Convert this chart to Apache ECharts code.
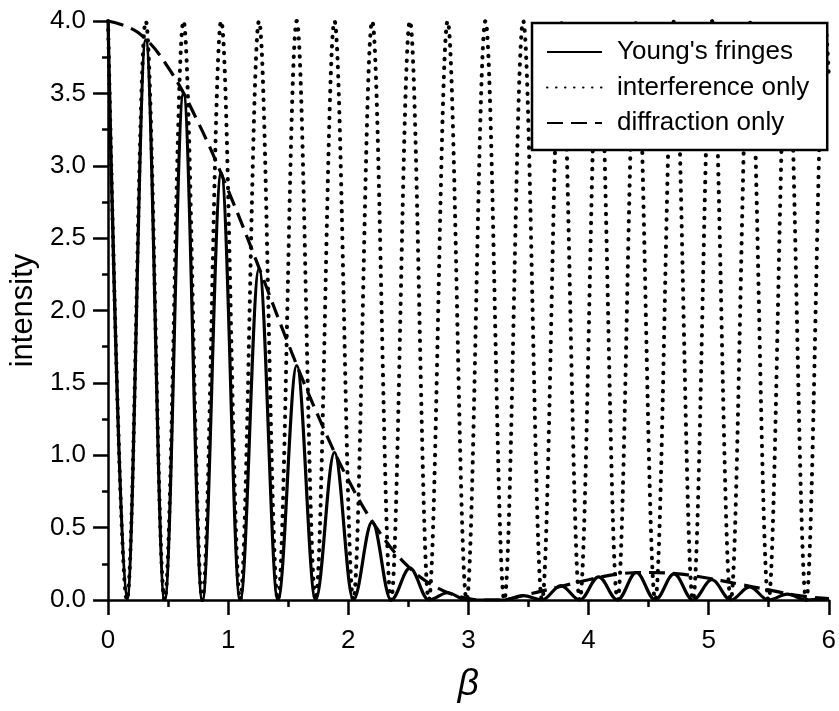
<!DOCTYPE html>
<html>
<head>
<meta charset="utf-8">
<script src="https://cdn.jsdelivr.net/npm/echarts@6/dist/echarts.min.js"></script>
<style>
html,body{margin:0;padding:0;background:#fff;}
#chart{width:839px;height:711px;}
</style>
</head>
<body>
<div id="chart"></div>
<script>
// beta positions of the fringe maxima / minima
const betaGrid = [0.000,0.157,0.314,0.471,0.628,0.785,0.942,1.100,1.257,1.414,
  1.571,1.728,1.885,2.042,2.199,2.356,2.513,2.670,2.827,2.985,
  3.142,3.299,3.456,3.613,3.770,3.927,4.084,4.241,4.398,4.555,
  4.712,4.869,5.027,5.184,5.341,5.498,5.655,5.812,5.969,6.000];
// interference only (maxima / minima)
const interference = [4,0,4,0,4,0,4,0,4,0,
  4,0,4,0,4,0,4,0,4,0,
  4,0,4,0,4,0,4,0,4,0,
  4,0,4,0,4,0,4,0,4,3.62];
// Young's fringes (maxima / minima)
const youngs = [4.00,0,3.87,0,3.50,0,2.95,0,2.29,0,
  1.62,0,1.02,0,0.54,0,0.22,0,0.05,0,
  0.00,0,0.03,0,0.10,0,0.16,0,0.19,0,
  0.18,0,0.14,0,0.09,0,0.04,0,0.01,0.01];
// diffraction only envelope
const diffBeta = [0,0.25,0.5,0.75,1.0,1.25,1.5,1.75,2.0,2.25,2.5,2.75,3.0,3.142,3.25,
  3.5,3.75,4.0,4.25,4.5,4.75,5.0,5.25,5.5,5.75,6.0];
const diffraction = [4.00,3.92,3.68,3.30,2.83,2.31,1.77,1.27,0.83,0.48,0.23,0.08,0.01,0.00,0.00,
  0.04,0.09,0.14,0.18,0.19,0.18,0.15,0.11,0.07,0.03,0.01];
const seriesNames = ["Young's fringes", "interference only", "diffraction only"];
const xTicks = [0,1,2,3,4,5,6];
const yTicks = [0,0.5,1,1.5,2,2.5,3,3.5,4];

const FONT = "'Liberation Sans', Arial, sans-serif";
const chart = echarts.init(document.getElementById('chart'), null, {renderer:'canvas'});
const pair = (xs, ys) => xs.map((x, i) => [x, ys[i]]);

chart.setOption({
  backgroundColor: '#fff',
  animation: false,
  grid: {left: 105, right: 8, top: 21, bottom: 111, containLabel: false},
  legend: {
    orient: 'vertical', left: 532, top: 23,
    padding: [16, 18, 14, 14],
    borderColor: '#000', borderWidth: 2.5, backgroundColor: '#fff',
    itemWidth: 55, itemHeight: 14, itemGap: 9.5,
    textStyle: {fontSize: 26, fontFamily: FONT, color: '#000', lineHeight: 26, padding: [0,0,0,10]},
    itemStyle: {opacity: 0},
    data: seriesNames
  },
  xAxis: {
    type: 'value', min: xTicks[0], max: xTicks[xTicks.length-1], interval: 1,
    name: 'β', nameLocation: 'middle', nameGap: 66,
    nameTextStyle: {fontSize: 37, fontStyle: 'italic', fontFamily: FONT, color: '#000'},
    axisLine: {lineStyle: {color: '#000', width: 2.5}},
    axisTick: {show: true, inside: false, length: 15, lineStyle: {color: '#000', width: 2.5}},
    minorTick: {show: true, splitNumber: 2, length: 7, lineStyle: {color: '#000', width: 2.5}},
    axisLabel: {fontSize: 26, fontFamily: FONT, color: '#000', margin: 28, showMinLabel: true, showMaxLabel: true},
    splitLine: {show: false}
  },
  yAxis: {
    type: 'value', min: yTicks[0], max: yTicks[yTicks.length-1], interval: 0.5,
    name: 'intensity', nameLocation: 'middle', nameGap: 66,
    nameTextStyle: {fontSize: 31, fontFamily: FONT, color: '#000'},
    axisLine: {show: true, lineStyle: {color: '#000', width: 2.5}},
    axisTick: {show: true, inside: false, length: 15, lineStyle: {color: '#000', width: 2.5}},
    minorTick: {show: true, splitNumber: 2, length: 6, lineStyle: {color: '#000', width: 2.5}},
    axisLabel: {fontSize: 26, fontFamily: FONT, color: '#000', margin: 22, formatter: v => v.toFixed(1)},
    splitLine: {show: false}
  },
  series: [
    {
      name: seriesNames[1], type: 'line', data: pair(betaGrid, interference),
      symbol: 'none', smooth: 0.36, smoothMonotone: 'x',
      lineStyle: {color: '#000', width: 4, type: [0.5, 8.5], cap: 'round'}, z: 2
    },
    {
      name: seriesNames[2], type: 'line', data: pair(diffBeta, diffraction),
      symbol: 'none', smooth: 0.4,
      lineStyle: {color: '#000', width: 3.2, type: [16, 8]}, z: 3
    },
    {
      name: seriesNames[0], type: 'line', data: pair(betaGrid, youngs),
      symbol: 'none', smooth: 0.36, smoothMonotone: 'x',
      lineStyle: {color: '#000', width: 3.2}, z: 4
    }
  ]
});
</script>
</body>
</html>
